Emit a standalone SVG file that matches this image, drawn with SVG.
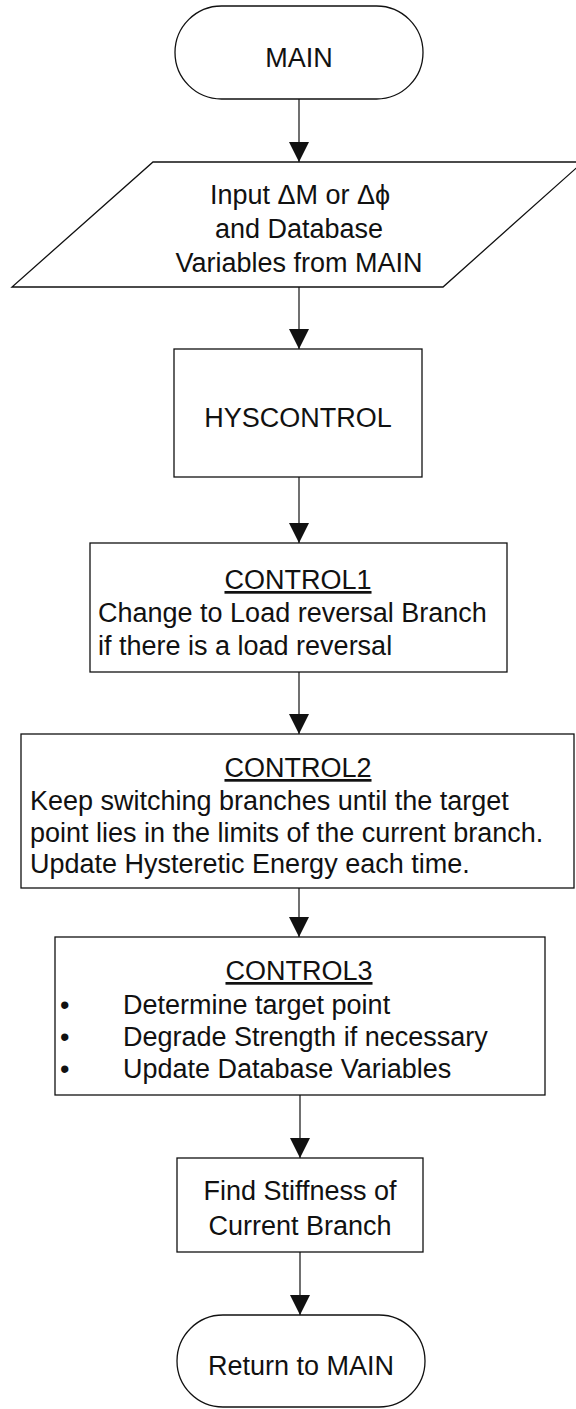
<svg xmlns="http://www.w3.org/2000/svg" width="576" height="1409" viewBox="0 0 576 1409">
<style>
.shape{fill:#fff;stroke:#111;stroke-width:1.3}
.t{font-family:"Liberation Sans",Arial,sans-serif;font-size:27px;fill:#111}
.c{text-anchor:middle}
.u{text-decoration:underline}
.conn line{stroke:#111;stroke-width:1.2}
</style>
<defs>
<marker id="arr" viewBox="0 0 20 20" refX="20" refY="10" markerWidth="20" markerHeight="20" markerUnits="userSpaceOnUse" orient="auto">
<path d="M0,0 L20,10 L0,20 Z" fill="#111"/>
</marker>
</defs>
<rect width="576" height="1409" fill="#fff"/>
<g id="n-main">
<rect class="shape" x="175" y="6" width="248" height="93" rx="46.5" ry="46.5"/>
<text class="t c" x="299" y="67">MAIN</text>
</g>
<g id="n-input">
<polygon class="shape" points="153,162 583,162 443,287 12,287"/>
<text class="t c" x="300" y="204">Input ΔM or Δϕ</text>
<text class="t c" x="299" y="238">and Database</text>
<text class="t c" x="299" y="272">Variables from MAIN</text>
</g>
<g id="n-hyscontrol">
<rect class="shape" x="174" y="349" width="248" height="128"/>
<text class="t c" x="298" y="427">HYSCONTROL</text>
</g>
<g id="n-control1">
<rect class="shape" x="90" y="543" width="417" height="129"/>
<text class="t c u" x="298" y="589">CONTROL1</text>
<text class="t" x="98" y="622">Change to Load reversal Branch</text>
<text class="t" x="98" y="655">if there is a load reversal</text>
</g>
<g id="n-control2">
<rect class="shape" x="21" y="734" width="553" height="154"/>
<text class="t c u" x="298" y="777">CONTROL2</text>
<text class="t" x="30" y="810">Keep switching branches until the target</text>
<text class="t" x="30" y="842">point lies in the limits of the current branch.</text>
<text class="t" x="30" y="873">Update Hysteretic Energy each time.</text>
</g>
<g id="n-control3">
<rect class="shape" x="55" y="937" width="490" height="158"/>
<text class="t c u" x="299" y="980">CONTROL3</text>
<text class="t" x="60" y="1014">•</text>
<text class="t" x="123" y="1014">Determine target point</text>
<text class="t" x="60" y="1046">•</text>
<text class="t" x="123" y="1046">Degrade Strength if necessary</text>
<text class="t" x="60" y="1078">•</text>
<text class="t" x="123" y="1078">Update Database Variables</text>
</g>
<g id="n-stiffness">
<rect class="shape" x="177" y="1158" width="246" height="94"/>
<text class="t c" x="300" y="1200">Find Stiffness of</text>
<text class="t c" x="300" y="1235">Current Branch</text>
</g>
<g id="n-return">
<rect class="shape" x="177" y="1315" width="248" height="92" rx="46" ry="46"/>
<text class="t c" x="301" y="1375">Return to MAIN</text>
</g>
<g id="connectors" class="conn">
<line x1="299" y1="99" x2="299" y2="162" marker-end="url(#arr)"/>
<line x1="299" y1="287" x2="299" y2="349" marker-end="url(#arr)"/>
<line x1="299" y1="477" x2="299" y2="543" marker-end="url(#arr)"/>
<line x1="299" y1="672" x2="299" y2="734" marker-end="url(#arr)"/>
<line x1="299" y1="888" x2="299" y2="937" marker-end="url(#arr)"/>
<line x1="300" y1="1095" x2="300" y2="1158" marker-end="url(#arr)"/>
<line x1="300" y1="1252" x2="300" y2="1315" marker-end="url(#arr)"/>
</g>
</svg>
